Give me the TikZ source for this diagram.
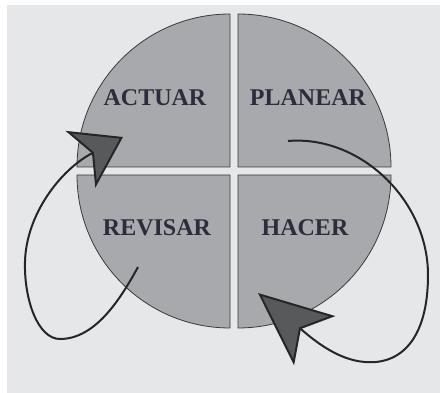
\documentclass[tikz,border=0pt]{standalone}
\usepackage{fontspec}
\setmainfont{Liberation Serif}
\usetikzlibrary{arrows.meta}
\definecolor{Backdrop}{HTML}{E6E7E9}
\definecolor{Quadrant}{HTML}{A8A9AD}
\definecolor{Outline}{HTML}{3A3A3C}
\definecolor{HeadFill}{HTML}{58595B}
\definecolor{Label}{HTML}{2C2C3C}
\tikzset{
  phase/.style={font=\bfseries\fontsize{24}{26}\selectfont,text=Label,inner sep=0pt},
  quarter/.style={draw=Outline,fill=Quadrant,line width=.8pt},
  cycle arrow/.style={draw=black!85,line width=2pt,fill=none}
}
\begin{document}
\begin{tikzpicture}[x=1pt,y=1pt]
  \useasboundingbox (0,0) rectangle (440,393);
  \fill[Backdrop] (7,0) rectangle (440,388);
  % four quarters of the circle, split by a thin gap
  \foreach \sx/\sy/\a/\b in {1/1/0/90,-1/1/180/90,-1/-1/180/270,1/-1/0/-90}
    \draw[quarter] (234+4*\sx,222+4*\sy) -- ++(153*\sx,0)
      arc[start angle=\a,end angle=\b,radius=153pt] -- cycle;
  \node[phase] (actuar) at (155,295) {ACTUAR};
  \node[phase] (planear) at (308,295) {PLANEAR};
  \node[phase] (revisar) at (157,165) {REVISAR};
  \node[phase] (hacer) at (305,165) {HACER};
  \coordinate (revisarstart) at (138,126);
  \coordinate (actuartip) at (123,256);
  \coordinate (planearstart) at (288,252);
  \coordinate (hacertip) at (258,100);
  \draw[cycle arrow,-{Stealth[length=48pt,width=64pt,inset=13pt,fill=HeadFill]}]
    (revisarstart) .. controls (120,93) and (95,54) .. (60,54)
    .. controls (38,54) and (24,93) .. (25,131)
    .. controls (26,178) and (60,223) .. (actuartip);
  \draw[cycle arrow,-{Stealth[length=74pt,width=64pt,inset=18pt,fill=HeadFill]}]
    (planearstart) .. controls (360,258) and (428,193) .. (428,118)
    .. controls (428,53) and (400,28) .. (365,31)
    .. controls (335,33) and (308,58) .. (hacertip);
\end{tikzpicture}
\end{document}
